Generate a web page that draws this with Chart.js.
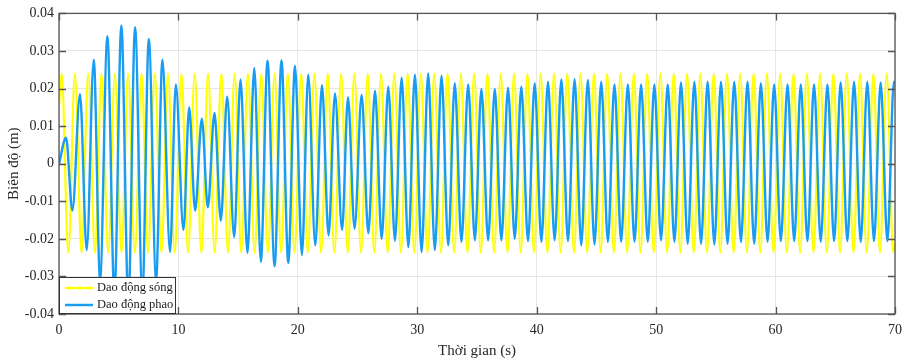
<!DOCTYPE html>
<html>
<head>
<meta charset="utf-8">
<script src="https://cdn.jsdelivr.net/npm/chart.js@4"></script>
<style>
  body { margin: 0; background: #fff; }
  canvas { display: block; }
</style>
</head>
<body>
<canvas id="wave-chart" width="914" height="360"></canvas>
<script>
// tick labels
var xTicks = [0, 10, 20, 30, 40, 50, 60, 70];
var yTicks = [-0.04, -0.03, -0.02, -0.01, 0, 0.01, 0.02, 0.03, 0.04];

// wave (yellow): crest / trough times
var waveT = [0,
  0.22, 0.78, 1.33, 1.89, 2.45, 3.01, 3.56, 4.12, 4.68, 5.23, 5.79, 6.35, 6.91, 7.46, 8.02, 8.58,
  9.13, 9.69, 10.25, 10.81, 11.36, 11.92, 12.48, 13.03, 13.59, 14.15, 14.71, 15.26, 15.82, 16.38, 16.93, 17.49,
  18.05, 18.60, 19.16, 19.72, 20.28, 20.83, 21.39, 21.95, 22.50, 23.06, 23.62, 24.18, 24.73, 25.29, 25.85, 26.40,
  26.96, 27.52, 28.08, 28.63, 29.19, 29.75, 30.30, 30.86, 31.42, 31.98, 32.53, 33.09, 33.65, 34.20, 34.76, 35.32,
  35.87, 36.43, 36.99, 37.55, 38.10, 38.66, 39.22, 39.77, 40.33, 40.89, 41.45, 42.00, 42.56, 43.12, 43.67, 44.23,
  44.79, 45.35, 45.90, 46.46, 47.02, 47.57, 48.13, 48.69, 49.25, 49.80, 50.36, 50.92, 51.47, 52.03, 52.59, 53.15,
  53.70, 54.26, 54.82, 55.37, 55.93, 56.49, 57.04, 57.60, 58.16, 58.72, 59.27, 59.83, 60.39, 60.94, 61.50, 62.06,
  62.62, 63.17, 63.73, 64.29, 64.84, 65.40, 65.96, 66.52, 67.07, 67.63, 68.19, 68.74, 69.30, 69.86,
  70];
var waveV = [0.0155,
  0.024, -0.0237, 0.024, -0.0237, 0.024, -0.0237, 0.024, -0.0237, 0.024, -0.0237, 0.024, -0.0237, 0.024, -0.0237, 0.024, -0.0237,
  0.024, -0.0237, 0.024, -0.0237, 0.024, -0.0237, 0.024, -0.0237, 0.024, -0.0237, 0.024, -0.0237, 0.024, -0.0237, 0.024, -0.0237,
  0.024, -0.0237, 0.024, -0.0237, 0.024, -0.0237, 0.024, -0.0237, 0.024, -0.0237, 0.024, -0.0237, 0.024, -0.0237, 0.024, -0.0237,
  0.024, -0.0237, 0.024, -0.0237, 0.024, -0.0237, 0.024, -0.0237, 0.024, -0.0237, 0.024, -0.0237, 0.024, -0.0237, 0.024, -0.0237,
  0.024, -0.0237, 0.024, -0.0237, 0.024, -0.0237, 0.024, -0.0237, 0.024, -0.0237, 0.024, -0.0237, 0.024, -0.0237, 0.024, -0.0237,
  0.024, -0.0237, 0.024, -0.0237, 0.024, -0.0237, 0.024, -0.0237, 0.024, -0.0237, 0.024, -0.0237, 0.024, -0.0237, 0.024, -0.0237,
  0.024, -0.0237, 0.024, -0.0237, 0.024, -0.0237, 0.024, -0.0237, 0.024, -0.0237, 0.024, -0.0237, 0.024, -0.0237, 0.024, -0.0237,
  0.024, -0.0237, 0.024, -0.0237, 0.024, -0.0237, 0.024, -0.0237, 0.024, -0.0237, 0.024, -0.0237, 0.024, -0.0237,
  -0.021];

// buoy (blue): peak / trough times and values
var buoyT = [0,
  0.59, 1.12, 1.76, 2.32, 2.91, 3.44, 4.05, 4.64, 5.22, 5.81, 6.37, 6.98, 7.52, 8.13, 8.66, 9.30,
  9.78, 10.42, 10.90, 11.40, 11.96, 12.46, 13.02, 13.55, 14.08, 14.67, 15.20, 15.78, 16.35, 16.90, 17.46, 18.05,
  18.63, 19.20, 19.76, 20.34, 20.87, 21.46, 22.02, 22.57, 23.11, 23.70, 24.20, 24.75,
  25.34, 25.90, 26.46, 27.02, 27.57, 28.13, 28.69, 29.25, 29.80, 30.36, 30.91, 31.47, 32.03, 32.59, 33.14, 33.70,
  34.26, 34.82, 35.37, 35.93, 36.49, 37.04, 37.60, 38.16, 38.71, 39.27, 39.83, 40.39, 40.94, 41.50, 42.06, 42.62,
  43.17, 43.73, 44.28, 44.84, 45.40, 45.96, 46.51, 47.07, 47.63, 48.19, 48.74, 49.30, 49.85, 50.41, 50.97, 51.53,
  52.08, 52.64, 53.20, 53.76, 54.31, 54.87, 55.43, 55.98, 56.54, 57.10, 57.65, 58.21, 58.77, 59.33, 59.88, 60.44,
  61.00, 61.56, 62.11, 62.67, 63.22, 63.78, 64.34, 64.90, 65.45, 66.01, 66.57, 67.13, 67.68, 68.24, 68.80, 69.36,
  69.91, 70];
var buoyV = [0,
  0.0069, -0.0125, 0.0185, -0.0230, 0.0277, -0.0310, 0.0339, -0.0350, 0.0368, -0.0370, 0.0363, -0.0350, 0.0332, -0.0310, 0.0277, -0.0235,
  0.0211, -0.0176, 0.0150, -0.0125, 0.0120, -0.0116, 0.0135, -0.0151, 0.0178, -0.0195, 0.0224, -0.0237, 0.0255, -0.0261, 0.0274, -0.0273,
  0.0275, -0.0264, 0.0260, -0.0243, 0.0237, -0.0217, 0.0209, -0.0191, 0.0187, -0.0176, 0.0176, -0.0173,
  0.0183, -0.0185, 0.0194, -0.0200, 0.0205, -0.0205, 0.0229, -0.0222, 0.0237, -0.0235, 0.0240, -0.0230, 0.0234, -0.0217, 0.0214, -0.0208,
  0.0211, -0.0204, 0.0199, -0.0204, 0.0199, -0.0204, 0.0202, -0.0200, 0.0205, -0.0206, 0.0214, -0.0208, 0.0218, -0.0204, 0.0224, -0.0206,
  0.0225, -0.0217, 0.0223, -0.0215, 0.0218, -0.0208, 0.0211, -0.0208, 0.0211, -0.0208, 0.0211, -0.0208, 0.0211, -0.0204, 0.0211, -0.0208,
  0.0216, -0.0213, 0.0218, -0.0213, 0.0218, -0.0215, 0.0218, -0.0213, 0.0218, -0.0208, 0.0218, -0.0213, 0.0214, -0.0208, 0.0211, -0.0206,
  0.0211, -0.0206, 0.0211, -0.0206, 0.0211, -0.0208, 0.0211, -0.0206, 0.0216, -0.0206, 0.0218, -0.0208, 0.0218, -0.0206, 0.0216, -0.0206,
  0.0218, 0.0212];

var seriesNames = ["Dao động sóng", "Dao động phao"];
var seriesColors = ["#ffff00", "#1a9cf0"];

function toPoints(ts, vs) {
    return ts.map(function(t, i) { return {x: t, y: vs[i]}; });
}

var serif = "'Liberation Serif', 'Times New Roman', serif";

// matlab style box, inward ticks and the legend inside the axes
var matlabBox = {
    id: 'matlabBox',
    afterDatasetsDraw: function(chart) {
        var ctx = chart.ctx;
        var a = chart.chartArea;
        var xs = chart.scales.x, ys = chart.scales.y;
        ctx.save();
        ctx.strokeStyle = "#555555";
        ctx.lineWidth = 1.3;
        ctx.strokeRect(a.left, a.top, a.right - a.left, a.bottom - a.top);
        ctx.beginPath();
        xTicks.forEach(function(v) {
            var p = Math.round(xs.getPixelForValue(v)) + 0.5;
            ctx.moveTo(p, a.bottom); ctx.lineTo(p, a.bottom - 7);
            ctx.moveTo(p, a.top); ctx.lineTo(p, a.top + 7);
        });
        yTicks.forEach(function(v) {
            var p = Math.round(ys.getPixelForValue(v)) + 0.5;
            ctx.moveTo(a.left, p); ctx.lineTo(a.left + 7, p);
            ctx.moveTo(a.right, p); ctx.lineTo(a.right - 7, p);
        });
        ctx.stroke();

        // legend
        var lx = a.left, lw = 117, lh = 37, ly = a.bottom - lh;
        ctx.fillStyle = "#ffffff";
        ctx.fillRect(lx, ly, lw, lh);
        ctx.strokeStyle = "#333333";
        ctx.lineWidth = 1;
        ctx.strokeRect(lx + 0.5, ly + 0.5, lw - 1, lh - 1);
        ctx.font = "12.5px " + serif;
        ctx.textBaseline = "middle";
        seriesNames.forEach(function(name, i) {
            var yy = ly + 11 + i * 17;
            ctx.strokeStyle = seriesColors[i];
            ctx.lineWidth = 2.5;
            ctx.beginPath();
            ctx.moveTo(lx + 6, yy); ctx.lineTo(lx + 34, yy);
            ctx.stroke();
            ctx.fillStyle = "#1a1a1a";
            ctx.fillText(name, lx + 38, yy);
        });
        ctx.restore();
    }
};

var ctx = document.getElementById("wave-chart").getContext("2d");
var waveChart = new Chart(ctx, {
    type: "line",
    data: {
        datasets: [
            {
                label: seriesNames[0],
                data: toPoints(waveT, waveV),
                borderColor: seriesColors[0],
                borderWidth: 2.2,
                pointRadius: 0,
                cubicInterpolationMode: "monotone",
                fill: false,
                order: 2
            },
            {
                label: seriesNames[1],
                data: toPoints(buoyT, buoyV),
                borderColor: seriesColors[1],
                borderWidth: 2.4,
                pointRadius: 0,
                cubicInterpolationMode: "monotone",
                fill: false,
                order: 1
            }
        ]
    },
    options: {
        responsive: false,
        animation: false,
        layout: { padding: { top: 11, right: 19, left: 0, bottom: 0 } },
        plugins: {
            legend: { display: false },
            tooltip: { enabled: false }
        },
        scales: {
            x: {
                type: "linear",
                min: 0,
                max: 70,
                afterBuildTicks: function(scale) {
                    scale.ticks = xTicks.map(function(v) { return {value: v}; });
                },
                afterFit: function(scale) { scale.height = 46; },
                grid: { color: "#e6e6e6", drawTicks: false },
                border: { display: false },
                ticks: {
                    padding: 8,
                    color: "#262626",
                    font: { family: serif, size: 14 },
                    maxRotation: 0
                },
                title: {
                    display: true,
                    text: "Thời gian (s)",
                    color: "#262626",
                    font: { family: serif, size: 15 },
                    padding: { top: 1, bottom: 0 }
                }
            },
            y: {
                min: -0.04,
                max: 0.04,
                afterBuildTicks: function(scale) {
                    scale.ticks = yTicks.map(function(v) { return {value: v}; });
                },
                afterFit: function(scale) { scale.width = 59; },
                grid: { color: "#e6e6e6", drawTicks: false },
                border: { display: false },
                ticks: {
                    padding: 5,
                    color: "#262626",
                    font: { family: serif, size: 14 },
                    callback: function(v) {
                        var r = Math.round(v * 100) / 100;
                        return r === 0 ? "0" : r.toFixed(2);
                    }
                },
                title: {
                    display: true,
                    text: "Biên độ (m)",
                    color: "#262626",
                    font: { family: serif, size: 15 },
                    padding: { top: 5, bottom: 0 }
                }
            }
        }
    },
    plugins: [matlabBox]
});
</script>
</body>
</html>
